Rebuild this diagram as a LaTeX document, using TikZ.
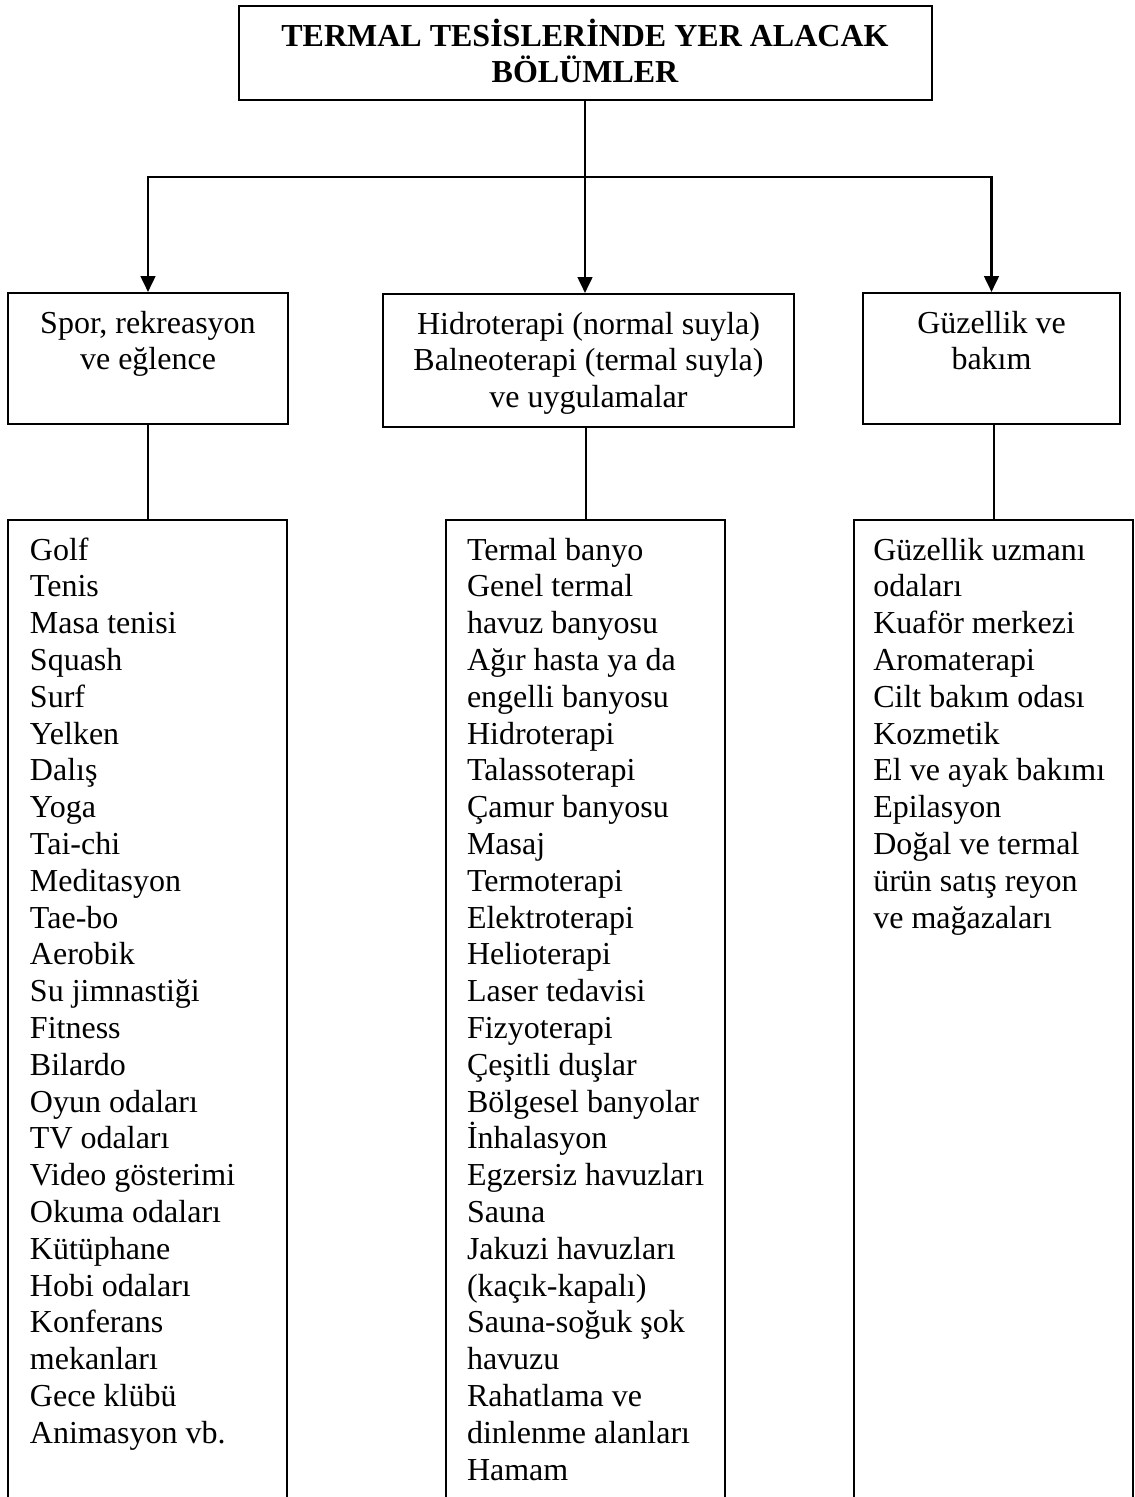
\documentclass[tikz,border=0pt]{standalone}
\usepackage{fontspec}
\setmainfont{Liberation Serif}
\usepackage{tikz}
\usetikzlibrary{arrows.meta}
\tikzset{every picture/.style={line width=0.75pt}}
\newcommand{\boxtopstrut}{\rule{0pt}{30pt}}

\begin{document}
\begin{tikzpicture}[x=0.75pt,y=0.75pt,yscale=-1,xscale=1,
		every node/.style={font=\fontsize{24}{27.6}\selectfont},
		box/.style={draw, line width=1.5pt, inner sep=0pt, anchor=north},
		arr/.style={line width=2pt, -{Triangle[length=12pt,width=11pt]}},
		link/.style={line width=1.5pt}]
		\useasboundingbox (0,0) rectangle (1135,1497);
		\clip (0,0) rectangle (1135,1497);
		
		%Shape: Rectangle [title]
		\node[box] (title) at (585,5) {\parbox[c][70.5pt][t]{519.75pt}{\centering\bfseries\boxtopstrut TERMAL TESİSLERİNDE YER ALACAK\\ BÖLÜMLER}};
		
		%Shape: Rectangle [categories]
		\node[box] (spor) at (148,292) {\parbox[c][98.25pt][t]{210pt}{\centering\boxtopstrut Spor, rekreasyon\\ ve eğlence}};
		\node[box] (hidro) at (588.5,293) {\parbox[c][99.75pt][t]{308.25pt}{\centering\boxtopstrut Hidroterapi (normal suyla)\\ Balneoterapi (termal suyla)\\ ve uygulamalar}};
		\node[box] (guz) at (991.5,292) {\parbox[c][98.25pt][t]{192.75pt}{\centering\boxtopstrut Güzellik ve\\ bakım}};
		
		%Shape: Rectangle [lists, cut at the page bottom]
		\node[box] (sporlist) at (147.5,519) {\parbox[c][750pt][t]{209.25pt}{\raggedright\leftskip=16.5pt\boxtopstrut Golf\\ Tenis\\ Masa tenisi\\ Squash\\ Surf\\ Yelken\\ Dalış\\ Yoga\\ Tai-chi\\ Meditasyon\\ Tae-bo\\ Aerobik\\ Su jimnastiği\\ Fitness\\ Bilardo\\ Oyun odaları\\ TV odaları\\ Video gösterimi\\ Okuma odaları\\ Kütüphane\\ Hobi odaları\\ Konferans\\ mekanları\\ Gece klübü\\ Animasyon vb.}};
		\node[box] (hidrolist) at (585.5,519) {\parbox[c][750pt][t]{209.25pt}{\raggedright\leftskip=15.75pt\boxtopstrut Termal banyo\\ Genel termal\\ havuz banyosu\\ Ağır hasta ya da\\ engelli banyosu\\ Hidroterapi\\ Talassoterapi\\ Çamur banyosu\\ Masaj\\ Termoterapi\\ Elektroterapi\\ Helioterapi\\ Laser tedavisi\\ Fizyoterapi\\ Çeşitli duşlar\\ Bölgesel banyolar\\ İnhalasyon\\ Egzersiz havuzları\\ Sauna\\ Jakuzi havuzları\\ (kaçık-kapalı)\\ Sauna-soğuk şok\\ havuzu\\ Rahatlama ve\\ dinlenme alanları\\ Hamam}};
		\node[box] (guzlist) at (993.5,519) {\parbox[c][750pt][t]{209.25pt}{\raggedright\leftskip=14.5pt\boxtopstrut Güzellik uzmanı\\ odaları\\ Kuaför merkezi\\ Aromaterapi\\ Cilt bakım odası\\ Kozmetik\\ El ve ayak bakımı\\ Epilasyon\\ Doğal ve termal\\ ürün satış reyon\\ ve mağazaları}};
		
		%Straight Lines [arrows]
		\coordinate (branch) at (585,177);
		\draw[arr] (title.south) -- (title.south |- hidro.north);
		\draw[arr] (branch) -| (spor.north);
		\draw[arr] (branch) -| (guz.north);
		
		%Straight Lines [links]
		\draw[link] (spor.south) -- (spor.south |- sporlist.north);
		\draw[link] (hidrolist.north) -- (hidrolist.north |- hidro.south);
		\draw[link] (guzlist.north) -- (guzlist.north |- guz.south);
		
\end{tikzpicture}
\end{document}
